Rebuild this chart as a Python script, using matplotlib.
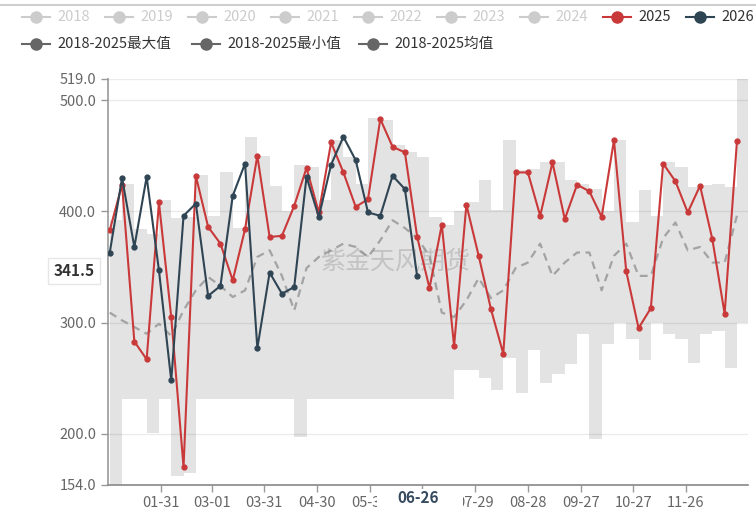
import numpy as np
import pandas as pd
import matplotlib
matplotlib.use('Agg')
import matplotlib.pyplot as plt
import matplotlib.dates as mdates
from matplotlib.lines import Line2D
from matplotlib.patches import Rectangle

plt.rcParams['font.family'] = ['Noto Sans CJK SC', 'DejaVu Sans']

# weekly values, 2025 axis
s2025 = [383, 424, 283, 267, 408, 305, 170, 432, 386, 371,
         338, 384, 450, 377, 378, 405, 439, 399, 462, 435,
         404, 411, 483, 458, 453, 377, 331, 388, 279, 406,
         360, 312, 272, 435, 435, 396, 444, 393, 424, 418,
         395, 464, 346, 295, 313, 443, 427, 399, 423, 375,
         308, 463]
s2026 = [363, 430, 368, 431, 347, 248, 396, 407, 324, 333,
         414, 443, 277, 345, 326, 332, 431, 395, 442, 467,
         446, 399, 396, 432, 420, 341.5]
s_mean = [309, 302, 296, 290, 299, 288, 311, 329, 341, 333,
          323, 329, 359, 365, 342, 311, 349, 359, 365, 371,
          368, 359, 374, 392, 385, 376, 360, 309, 305, 320,
          340, 322, 329, 349, 354, 371, 342, 354, 363, 363,
          329, 360, 371, 342, 342, 376, 390, 365, 368, 354,
          354, 396]
s_max = [392, 425, 384, 380, 410, 394, 395, 433, 396, 435,
         385, 467, 450, 423, 400, 442, 440, 410, 464, 449,
         425, 484, 482, 460, 453, 449, 395, 388, 400, 408,
         428, 401, 464, 437, 438, 444, 444, 428, 425, 420,
         400, 464, 390, 419, 396, 444, 440, 422, 424, 425,
         422, 519]
s_min = [154, 231, 231, 201, 231, 162, 165, 231, 231, 231,
         231, 231, 231, 231, 231, 197, 231, 231, 231, 231,
         231, 231, 231, 231, 231, 231, 231, 231, 257, 257,
         250, 239, 268, 237, 275, 246, 254, 263, 290, 195,
         281, 300, 285, 266, 300, 290, 285, 264, 290, 292,
         259, 300]

tick_dates = ['2025-01-31', '2025-03-01', '2025-03-31', '2025-04-30', '2025-05-30',
              '2025-06-29', '2025-07-29', '2025-08-28', '2025-09-27', '2025-10-27',
              '2025-11-26']
y_ticks = [154, 200, 300, 400, 500, 519]
pointer_date = '06-26'
pointer_value = 341.5

legend_row1 = ['2018', '2019', '2020', '2021', '2022', '2023', '2024', '2025', '2026']
legend_row1_col = ['#cccccc'] * 7 + ['#c9393a', '#2f4554']
legend_row2 = ['2018-2025最大值', '2018-2025最小值', '2018-2025均值']

W, H = 756, 509
fig = plt.figure(figsize=(W / 100, H / 100), dpi=100)
ax = fig.add_axes([108 / W, 24 / H, 640 / W, 406 / H])

dates = pd.date_range('2025-01-02', periods=len(s2025), freq='7D')
xn = mdates.date2num(dates)

# min-max range as stacked bars
lo = np.array(s_min, dtype=float)
hi = np.array(s_max, dtype=float)
ax.bar(xn + 3.5, hi - lo, bottom=lo, width=7, color='#e3e3e3', zorder=1, linewidth=0)

for y in y_ticks[1:]:
    ax.axhline(y, color='black', alpha=0.08, lw=1, zorder=1.5)

ax.plot(xn, s_mean, color='#a3a3a3', lw=1.6, ls=(0, (3.5, 2.5)), zorder=3)
ax.plot(xn, s2025, color='#c9393a', lw=1.5, marker='o', ms=3.5, zorder=4)
ax.plot(xn[:len(s2026)], s2026, color='#2f4554', lw=1.5, marker='o', ms=3.5, zorder=5)

ax.text(0.45, 0.55, '紫金天风期货', transform=ax.transAxes, fontsize=18,
        color='#888888', alpha=0.35, ha='center', va='center', zorder=3.5)

ax.set_xlim(mdates.date2num(pd.Timestamp('2025-01-01')),
            mdates.date2num(pd.Timestamp('2025-12-31')) + 0.3)
ax.set_ylim(154, 519)

tk = mdates.date2num(pd.to_datetime(tick_dates))
ax.set_xticks(tk)
# the 06-29 label sits under the axis-pointer label
ax.set_xticklabels(['' if d[5:] == '06-29' else d[5:] for d in tick_dates])
ax.set_yticks(y_ticks)
ax.set_yticklabels(['%.1f' % v for v in y_ticks])
ax.tick_params(axis='both', colors='#999999', labelcolor='#666666',
               labelsize=10.5, length=5, width=1)
ax.tick_params(axis='x', pad=3)
for s in ['top', 'right']:
    ax.spines[s].set_visible(False)
ax.spines['left'].set_color('#999999')
ax.spines['bottom'].set_color('#888888')
ax.spines['left'].set_linewidth(1.2)
ax.spines['bottom'].set_linewidth(1.2)

# axis pointer labels
fig.add_artist(Rectangle((377 / W, 0), 86 / W, 20 / H, transform=fig.transFigure,
                         facecolor='white', edgecolor='none', zorder=5))
fig.text(418 / W, 1 - 498 / H, pointer_date, fontsize=11, fontweight='bold',
         color='#34495e', ha='center', va='center', zorder=6)
fig.text(74 / W, 1 - 271 / H, '%.1f' % pointer_value, fontsize=11, fontweight='bold',
         color='#333333', ha='center', va='center', zorder=6,
         bbox=dict(boxstyle='square,pad=0.35', facecolor='white', edgecolor='#e6e6e6'))

# top border
fig.add_artist(Line2D([0, 1], [1 - 5 / H, 1 - 5 / H], transform=fig.transFigure,
                      color='#cfcfcf', lw=1.5))

# legend
def legend_item(x0, ypx, label, col, tcol):
    y = 1 - ypx / H
    fig.add_artist(Line2D([x0 / W, (x0 + 28) / W], [y, y], transform=fig.transFigure,
                          color=col, lw=1.5))
    fig.add_artist(Line2D([(x0 + 14) / W], [y], transform=fig.transFigure,
                          color=col, marker='o', ms=8))
    fig.text((x0 + 35) / W, y, label, fontsize=10.5, color=tcol, ha='left', va='center')

for i, lab in enumerate(legend_row1):
    c = legend_row1_col[i]
    legend_item(22 + 83 * i, 17, lab, c, '#cccccc' if c == '#cccccc' else '#333333')
for i, lab in enumerate(legend_row2):
    legend_item([22, 192, 359][i], 44, lab, '#666666', '#333333')

fig.savefig('out.png', dpi=100)
